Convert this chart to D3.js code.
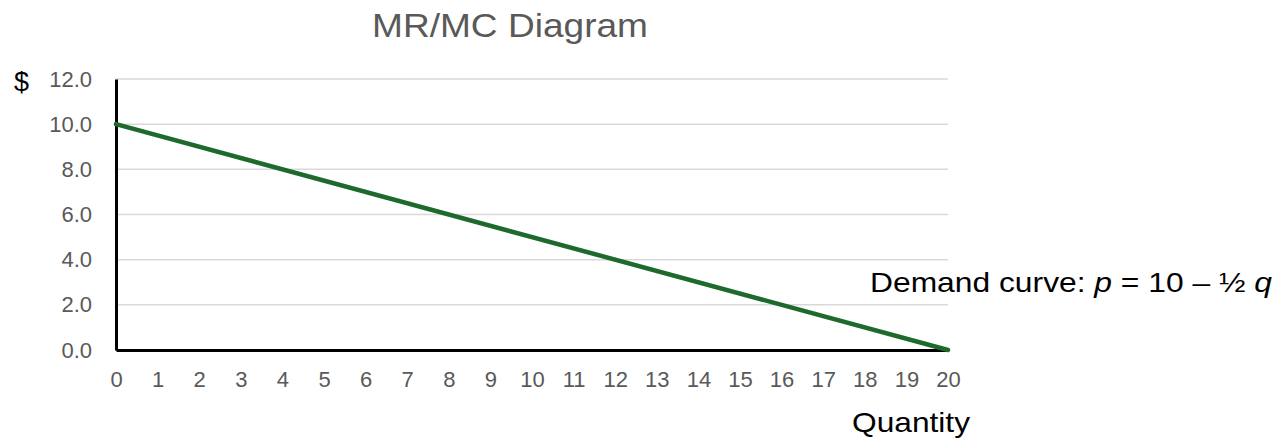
<!DOCTYPE html>
<html>
<head>
<meta charset="utf-8">
<script src="https://cdn.jsdelivr.net/npm/d3@7"></script>
<style>
  body { margin: 0; background: #fff; }
  text { font-family: Arial, "Liberation Sans", sans-serif; }
</style>
</head>
<body>
<svg></svg>
<script>
const width = 1285,
    height = 443

// demand curve p = 10 - q/2
const quantities = [0, 20]
const prices = [10, 0]
const xTicks = d3.range(0, 21)
const yTicks = [0, 2, 4, 6, 8, 10, 12]

const svg = d3.select('svg').attr('width', width).attr('height', height)

const x = d3.scaleLinear().domain([0, 20]).range([116, 948])
const y = d3.scaleLinear().domain([0, 12]).range([350, 79])

const font = 'Arial, "Liberation Sans", sans-serif'

// gridlines
svg.append('g')
    .selectAll('line')
    .data(yTicks.filter(d => d > 0))
    .enter().append('line')
    .attr('x1', x(0)).attr('x2', x(20))
    .attr('y1', d => y(d)).attr('y2', d => y(d))
    .attr('stroke', '#d9d9d9')
    .attr('stroke-width', 1.5)

// y axis
const yAxis = svg.append('g')
    .attr('transform', `translate(${x(0)},0)`)
    .call(d3.axisLeft(y).tickValues(yTicks).tickSize(0).tickPadding(24).tickFormat(d3.format('.1f')))
yAxis.select('.domain').attr('stroke', '#000').attr('stroke-width', 3)
yAxis.selectAll('text').attr('fill', '#595959').attr('font-size', 22).attr('font-family', font)

// x axis
const xAxis = svg.append('g')
    .attr('transform', `translate(0,${y(0)})`)
    .call(d3.axisBottom(x).tickValues(xTicks).tickSize(0).tickPadding(21).tickFormat(d3.format('d')))
xAxis.select('.domain').attr('stroke', '#000').attr('stroke-width', 3)
xAxis.selectAll('text').attr('fill', '#595959').attr('font-size', 22).attr('font-family', font)

// demand line
const line = d3.line().x(d => x(d[0])).y(d => y(d[1]))
svg.append('path')
    .datum(quantities.map((q, i) => [q, prices[i]]))
    .attr('d', line)
    .attr('fill', 'none')
    .attr('stroke', '#1d6a2c')
    .attr('stroke-width', 4.5)
    .attr('stroke-linecap', 'round')

// title
svg.append('text')
    .attr('x', 372).attr('y', 37)
    .attr('font-size', 33)
    .attr('fill', '#595959')
    .attr('textLength', 276)
    .attr('lengthAdjust', 'spacingAndGlyphs')
    .text('MR/MC Diagram')

svg.append('text')
    .attr('x', 14).attr('y', 91)
    .attr('font-size', 27)
    .attr('fill', '#000')
    .text('$')

svg.append('text')
    .attr('x', 852).attr('y', 432)
    .attr('font-size', 28)
    .attr('fill', '#000')
    .attr('textLength', 118)
    .attr('lengthAdjust', 'spacingAndGlyphs')
    .text('Quantity')

const label = svg.append('text')
    .attr('x', 870).attr('y', 292)
    .attr('font-size', 28)
    .attr('fill', '#000')
    .attr('textLength', 402)
    .attr('lengthAdjust', 'spacingAndGlyphs')
label.append('tspan').text('Demand curve: ')
label.append('tspan').attr('font-style', 'italic').text('p')
label.append('tspan').text(' = 10 – ½ ')
label.append('tspan').attr('font-style', 'italic').text('q')
</script>
</body>
</html>
